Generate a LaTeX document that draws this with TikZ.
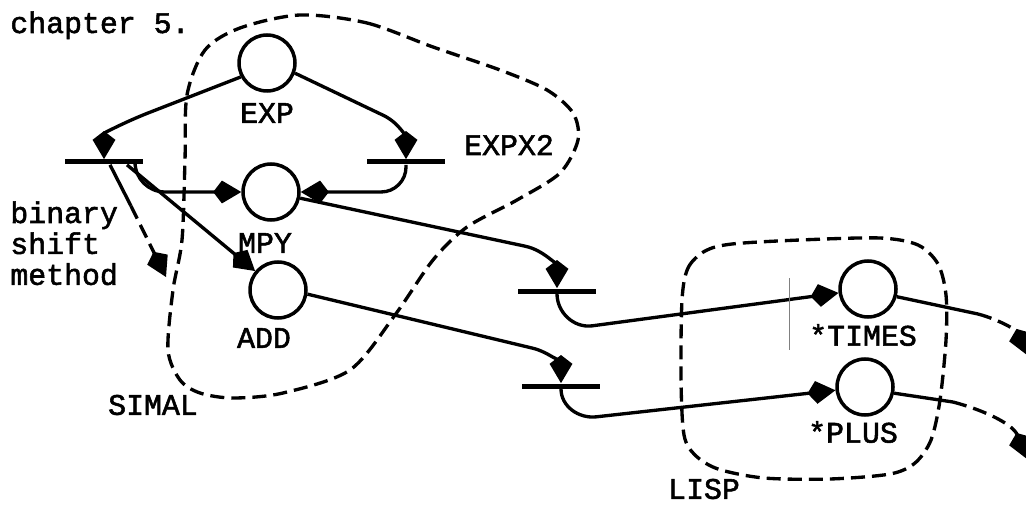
\documentclass[tikz,border=0pt]{standalone}
\usepackage{fontspec}
\setmonofont{Liberation Mono}[FakeBold=1.8]
\usetikzlibrary{arrows.meta}

\begin{document}
\begin{tikzpicture}[x=0.02cm, y=0.02cm,
    place/.style={circle, draw, line width=2pt, minimum size=1.12cm, inner sep=0pt},
    transbar/.style={rectangle, fill, minimum width=1.56cm, minimum height=0.1cm, inner sep=0pt},
    lbl/.style={font=\ttfamily\fontsize{17}{17.6}\selectfont, inner sep=0pt},
    link/.style={line width=1.9pt},
    flow/.style={line width=1.9pt, -{Kite[length=16pt,width=13pt,inset=5pt]}},
    region/.style={line width=1.9pt, dash pattern=on 8pt off 4pt}]
    \useasboundingbox (0,0) rectangle (1026,-506);

    % places
    \node[place] (exp) at (267,-63) {};
    \node[place] (mpy) at (271,-192) {};
    \node[place] (add) at (278,-290) {};
    \node[place] (times) at (868,-289) {};
    \node[place] (plus) at (865,-387) {};

    % transitions
    \node[transbar] (t1) at (104,-162) {};
    \node[transbar] (t2) at (406,-162) {};
    \node[transbar] (t3) at (557,-291) {};
    \node[transbar] (t4) at (561,-386) {};

    % labels
    \node[lbl, anchor=base west] (chap) at (10,-33) {chapter 5.};
    \node[lbl] (lexp) at (267,-113) {EXP};
    \node[lbl] (lexpx) at (509,-145) {EXPX2};
    \node[lbl] (lmpy) at (265,-243) {MPY};
    \node[lbl] (ladd) at (264,-338) {ADD};
    \node[lbl] (lsimal) at (153,-405) {SIMAL};
    \node[lbl] (ltimes) at (863,-335) {*TIMES};
    \node[lbl] (lplus) at (853,-432) {*PLUS};
    \node[lbl] (llisp) at (704,-489) {LISP};
    \node[lbl, anchor=north west, align=left] (lbsm) at (10,-201) {binary\\shift\\method};

    % free ends
    \coordinate (bsm1) at (131,-206);
    \coordinate (bsm) at (166,-277);
    \coordinate (tmid) at (978,-314);
    \coordinate (tout) at (1027,-355);
    \coordinate (pmid) at (953,-402);
    \coordinate (pout) at (1027,-459);

    % connectors
    \draw[flow] (exp.208) -- ++(-90,-35) to[out=201,in=90] (t1.north);
    \draw[flow] (exp.-20) -- ++(88,-42) to[out=-25,in=90] (t2.north);
    \draw[flow, rounded corners=0.5cm] (t2.south) |- (mpy.east);
    \draw[flow, rounded corners=0.6cm] ([xshift=0.62cm]t1.south) |- (mpy.west);
    \draw[flow] ([xshift=0.46cm]t1.south) -- (add);
    \draw[link] ([xshift=0.12cm]t1.south) -- (bsm1);
    \draw[flow, region] (bsm1) -- (bsm);
    \draw[flow] (mpy.-12) -- ++(225,-48) to[out=-12,in=90] (t3.north);
    \draw[flow] (add.-8) -- ++(225,-54) to[out=-13,in=90] (t4.north);
    \draw[flow] (t3.south) to[out=-90,in=187] ++(35,-32) -- (times);
    \draw[flow] (t4.south) to[out=-90,in=186] ++(35,-28) -- (plus);
    \draw[link] (times.-15) -- (tmid);
    \draw[flow, region] (tmid) to[out=-15,in=112] (tout);
    \draw[link] (plus.-12) -- (pmid);
    \draw[flow, region] (pmid) to[out=-15,in=112] (pout);
    \draw[very thin, gray] (789,-278) -- (789,-350);

    % regions
    \draw[region] plot[smooth cycle] coordinates {(300,-15) (367,-23) (433,-47) (500,-70) (547,-90)
        (573,-113) (578,-140) (560,-173) (517,-200) (467,-227) (433,-260) (395,-315) (350,-370)
        (283,-393) (233,-398) (200,-393) (180,-380) (168,-350) (173,-290) (182,-240) (185,-160)
        (187,-95) (205,-50) (240,-28)};
    \draw[region] plot[smooth cycle] coordinates {(682,-300) (688,-268) (705,-251) (732,-244)
        (800,-240) (880,-238) (918,-245) (938,-264) (946,-295) (946,-340) (940,-400) (931,-440)
        (915,-463) (890,-474) (830,-479) (764,-478) (718,-469) (695,-455) (684,-435) (681,-380)};
\end{tikzpicture}
\end{document}
